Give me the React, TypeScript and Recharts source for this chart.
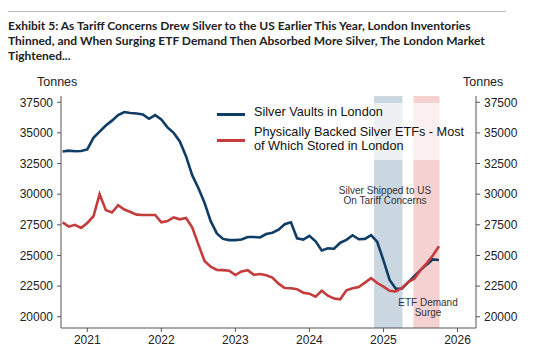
import React from 'react';
import { LineChart, Line, XAxis, YAxis, ReferenceArea } from 'recharts';

const months = [
  '2020-09', '2020-10', '2020-11', '2020-12',
  '2021-01', '2021-02', '2021-03', '2021-04', '2021-05', '2021-06', '2021-07', '2021-08', '2021-09', '2021-10', '2021-11', '2021-12',
  '2022-01', '2022-02', '2022-03', '2022-04', '2022-05', '2022-06', '2022-07', '2022-08', '2022-09', '2022-10', '2022-11', '2022-12',
  '2023-01', '2023-02', '2023-03', '2023-04', '2023-05', '2023-06', '2023-07', '2023-08', '2023-09', '2023-10', '2023-11', '2023-12',
  '2024-01', '2024-02', '2024-03', '2024-04', '2024-05', '2024-06', '2024-07', '2024-08', '2024-09', '2024-10', '2024-11', '2024-12',
  '2025-01', '2025-02', '2025-03', '2025-04', '2025-05', '2025-06', '2025-07', '2025-08', '2025-09', '2025-10',
];

// London vault holdings (tonnes)
const vaults = [
  33480, 33550, 33500, 33520,
  33650, 34600, 35110, 35600, 36000, 36450, 36700, 36620, 36580, 36500, 36150, 36450,
  36100, 35450, 35000, 34300, 33100, 31550, 30500, 29300, 27800, 26800, 26350, 26250,
  26250, 26300, 26500, 26500, 26470, 26750, 26850, 27100, 27550, 27700, 26400, 26300,
  26600, 26150, 25400, 25580, 25550, 26040, 26270, 26650, 26320, 26350, 26650, 26100,
  24600, 23000, 22280, 22300, 22800, 23300, 23800, 24250, 24680, 24630,
];

// physically backed silver ETFs (tonnes)
const etfs = [
  27700, 27350, 27500, 27250,
  27650, 28200, 30000, 28700, 28500, 29100, 28750, 28550, 28330, 28300, 28300, 28300,
  27700, 27800, 28100, 27950, 28050, 27300, 25900, 24550, 24080, 23820, 23800, 23750,
  23400, 23700, 23800, 23420, 23490, 23380, 23200, 22700, 22340, 22320, 22250, 21960,
  21880, 21640, 22120, 21720, 21480, 21420, 22150, 22320, 22420, 22780, 23150, 22750,
  22450, 22120, 22060, 22350, 22830, 23100, 23800, 24350, 25000, 25750,
];

const yTicks = [20000, 22500, 25000, 27500, 30000, 32500, 35000, 37500];
const xTicks = [2021, 2022, 2023, 2024, 2025, 2026];

// shaded episodes, in decimal years
const tariffBand = [2024.874, 2025.257];
const etfBand = [2025.405, 2025.757];

const toYear = (m: string) => {
  const [y, mo] = m.split('-').map(Number);
  return y + (mo - 1) / 12;
};

const data = months.map((m, i) => ({ t: toYear(m), vaults: vaults[i], etfs: etfs[i] }));

const BLUE = '#0f3d66';
const RED = '#c43c3c';
const AXIS = '#555';
const tickStyle = { fill: '#222', fontSize: 12, fontFamily: 'Liberation Sans, Arial, sans-serif' };

export default function App() {
  return (
    <div style={{ position: 'absolute', left: 0, top: 0, width: 546, height: 362, background: '#fff', fontFamily: 'Liberation Sans, Arial, sans-serif' }}>
      <div style={{ position: 'absolute', left: 8, top: 11, width: 498, borderTop: '1px solid #bbb' }} />
      <div style={{ position: 'absolute', left: 8, top: 18, width: 500, fontFamily: 'Lato, sans-serif', fontWeight: 700, fontSize: 12, lineHeight: '15px', color: '#222' }}>
        Exhibit 5: As Tariff Concerns Drew Silver to the US Earlier This Year, London Inventories Thinned, and When Surging ETF Demand Then Absorbed More Silver, The London Market Tightened...
      </div>
      <div style={{ position: 'absolute', left: 37, top: 75, fontSize: 12.5, color: '#222' }}>Tonnes</div>
      <div style={{ position: 'absolute', left: 463, top: 75, fontSize: 12.5, color: '#222' }}>Tonnes</div>

      <div style={{ position: 'absolute', left: 0, top: 0 }}>
        <LineChart width={546} height={362} data={data} margin={{ top: 96, right: 10, bottom: 4, left: 11 }}>
          <XAxis
            dataKey="t"
            type="number"
            domain={[2020.645, 2026.25]}
            ticks={xTicks}
            tick={tickStyle}
            tickSize={4}
            tickMargin={3}
            height={30}
            stroke={AXIS}
            allowDataOverflow
          />
          <YAxis
            yAxisId="left"
            domain={[19080, 38010]}
            ticks={yTicks}
            tick={tickStyle}
            tickSize={4}
            tickMargin={4}
            width={50}
            stroke={AXIS}
            allowDataOverflow
          />
          <YAxis
            yAxisId="right"
            orientation="right"
            domain={[19080, 38010]}
            ticks={yTicks}
            tick={tickStyle}
            tickSize={4}
            tickMargin={4}
            width={60}
            stroke={AXIS}
            allowDataOverflow
          />
          <ReferenceArea yAxisId="left" x1={tariffBand[0]} x2={tariffBand[1]} fill="#2c5a85" fillOpacity={0.25} stroke="none" />
          <ReferenceArea yAxisId="left" x1={etfBand[0]} x2={etfBand[1]} fill="#d9555a" fillOpacity={0.27} stroke="none" />
          <Line yAxisId="left" dataKey="vaults" stroke={BLUE} strokeWidth={2.6} dot={false} isAnimationActive={false} />
          <Line yAxisId="left" dataKey="etfs" stroke={RED} strokeWidth={2.6} dot={false} isAnimationActive={false} />
        </LineChart>
      </div>

      {/* legend */}
      <div style={{ position: 'absolute', left: 210, top: 103, width: 262, height: 57, background: 'rgba(255,255,255,0.65)', color: '#111', fontSize: 12.7 }}>
        <div style={{ position: 'absolute', left: 7, top: 10, width: 28, borderTop: `3px solid ${BLUE}` }} />
        <div style={{ position: 'absolute', left: 44, top: 2, lineHeight: '15px' }}>Silver Vaults in London</div>
        <div style={{ position: 'absolute', left: 7, top: 36, width: 28, borderTop: `3px solid ${RED}` }} />
        <div style={{ position: 'absolute', left: 44, top: 22, lineHeight: '14px', whiteSpace: 'nowrap' }}>
          Physically Backed Silver ETFs - Most<br />of Which Stored in London
        </div>
      </div>

      <div style={{ position: 'absolute', left: 325, top: 186, width: 120, textAlign: 'center', fontSize: 10, lineHeight: '10px', color: '#333' }}>
        Silver Shipped to US<br />On Tariff Concerns
      </div>
      <div style={{ position: 'absolute', left: 378, top: 298, width: 100, textAlign: 'center', fontSize: 10, lineHeight: '10px', color: '#333' }}>
        ETF Demand<br />Surge
      </div>
    </div>
  );
}
